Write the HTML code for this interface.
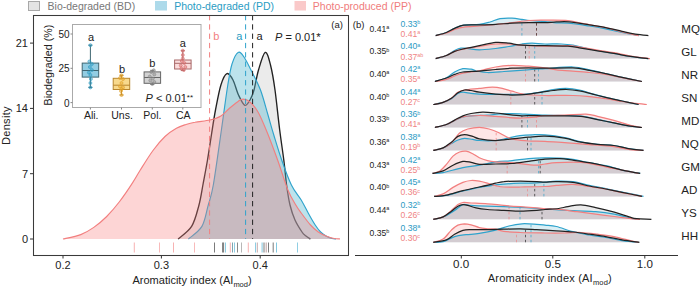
<!DOCTYPE html>
<html><head><meta charset="utf-8"><style>
html,body{margin:0;padding:0;background:#fff;width:700px;height:290px;overflow:hidden}
svg{display:block;font-family:"Liberation Sans",sans-serif}
</style></head><body>
<svg width="700" height="290" viewBox="0 0 700 290">
<!-- legend -->
<rect x="28.5" y="1.5" width="11" height="9" fill="#E4E4E4" stroke="#A8A8A8" stroke-width="1"/>
<text x="47.6" y="10.2" font-size="10.5" fill="#777">Bio-degraded (BD)</text>
<rect x="155" y="1" width="12" height="9.5" fill="#ADDAEA"/>
<text x="174.2" y="10.2" font-size="10.5" fill="#2A9CC3">Photo-degraded (PD)</text>
<rect x="294.5" y="1" width="11.5" height="9.5" fill="#FAC9C9"/>
<text x="312.8" y="10.2" font-size="10.5" fill="#F07C7C">Photo-produced (PP)</text>

<!-- panel a -->
<path d="M178.1,239.0 C180.3,236.9 188.1,232.0 191.6,226.4 C195.1,220.8 196.9,212.6 198.8,205.7 C200.7,198.8 201.5,192.6 202.9,185.0 C204.3,177.4 206.1,168.3 207.5,160.0 C208.9,151.7 210.1,143.3 211.4,135.0 C212.7,126.7 213.9,118.3 215.5,110.0 C217.1,101.7 219.0,91.1 220.9,85.0 C222.8,78.9 224.9,74.4 226.9,73.6 C228.9,72.8 231.1,76.4 233.0,80.0 C234.9,83.6 236.5,90.8 238.5,95.0 C240.5,99.2 242.9,104.5 244.8,105.3 C246.7,106.1 248.5,102.5 250.0,100.0 C251.5,97.5 252.6,95.0 254.0,90.0 C255.4,85.0 256.6,76.3 258.5,70.0 C260.4,63.7 263.2,53.2 265.2,52.4 C267.2,51.6 268.9,58.7 270.5,65.0 C272.1,71.3 273.5,79.2 275.0,90.0 C276.5,100.8 278.2,118.3 279.7,130.0 C281.2,141.7 282.6,150.8 283.8,160.0 C285.0,169.2 285.6,177.5 286.6,185.0 C287.6,192.5 288.6,199.2 290.0,205.0 C291.4,210.8 293.0,215.5 295.0,220.0 C297.0,224.5 300.2,229.3 302.0,232.0 C303.8,234.7 304.6,234.8 306.0,236.0 C307.4,237.2 309.8,238.5 310.5,239.0 L310.5,239 L178.1,239 Z" fill="rgba(153,153,153,0.2)" stroke="none"/><path d="M178.1,239.0 C180.3,236.9 188.1,232.0 191.6,226.4 C195.1,220.8 196.9,212.6 198.8,205.7 C200.7,198.8 201.5,192.6 202.9,185.0 C204.3,177.4 206.1,168.3 207.5,160.0 C208.9,151.7 210.1,143.3 211.4,135.0 C212.7,126.7 213.9,118.3 215.5,110.0 C217.1,101.7 219.0,91.1 220.9,85.0 C222.8,78.9 224.9,74.4 226.9,73.6 C228.9,72.8 231.1,76.4 233.0,80.0 C234.9,83.6 236.5,90.8 238.5,95.0 C240.5,99.2 242.9,104.5 244.8,105.3 C246.7,106.1 248.5,102.5 250.0,100.0 C251.5,97.5 252.6,95.0 254.0,90.0 C255.4,85.0 256.6,76.3 258.5,70.0 C260.4,63.7 263.2,53.2 265.2,52.4 C267.2,51.6 268.9,58.7 270.5,65.0 C272.1,71.3 273.5,79.2 275.0,90.0 C276.5,100.8 278.2,118.3 279.7,130.0 C281.2,141.7 282.6,150.8 283.8,160.0 C285.0,169.2 285.6,177.5 286.6,185.0 C287.6,192.5 288.6,199.2 290.0,205.0 C291.4,210.8 293.0,215.5 295.0,220.0 C297.0,224.5 300.2,229.3 302.0,232.0 C303.8,234.7 304.6,234.8 306.0,236.0 C307.4,237.2 309.8,238.5 310.5,239.0" fill="none" stroke="#222" stroke-width="1.35"/><path d="M188.4,239.0 C190.7,236.9 198.6,232.0 201.9,226.4 C205.2,220.8 206.2,212.6 208.1,205.7 C210.0,198.8 211.1,197.6 213.3,185.0 C215.5,172.4 219.0,146.7 221.4,130.0 C223.8,113.3 226.0,96.0 227.8,85.0 C229.6,74.0 230.3,69.4 232.0,64.0 C233.7,58.6 236.1,53.6 238.1,52.4 C240.1,51.2 241.7,53.7 244.0,57.0 C246.3,60.3 249.2,66.5 252.0,72.0 C254.8,77.5 257.8,82.8 260.5,90.0 C263.2,97.2 265.8,107.5 268.0,115.0 C270.2,122.5 271.5,127.5 273.8,135.0 C276.1,142.5 278.8,151.7 281.7,160.0 C284.6,168.3 288.1,178.3 291.4,185.0 C294.6,191.7 298.4,195.3 301.2,200.0 C304.0,204.7 305.9,208.8 308.2,213.0 C310.5,217.2 313.1,221.8 315.2,225.0 C317.3,228.2 318.8,230.2 320.6,232.0 C322.4,233.8 324.1,234.9 326.0,236.0 C327.9,237.1 330.3,238.0 332.0,238.5 C333.7,239.0 335.3,238.9 336.0,239.0 L336.0,239 L188.4,239 Z" fill="rgba(88,184,208,0.4)" stroke="none"/><path d="M188.4,239.0 C190.7,236.9 198.6,232.0 201.9,226.4 C205.2,220.8 206.2,212.6 208.1,205.7 C210.0,198.8 211.1,197.6 213.3,185.0 C215.5,172.4 219.0,146.7 221.4,130.0 C223.8,113.3 226.0,96.0 227.8,85.0 C229.6,74.0 230.3,69.4 232.0,64.0 C233.7,58.6 236.1,53.6 238.1,52.4 C240.1,51.2 241.7,53.7 244.0,57.0 C246.3,60.3 249.2,66.5 252.0,72.0 C254.8,77.5 257.8,82.8 260.5,90.0 C263.2,97.2 265.8,107.5 268.0,115.0 C270.2,122.5 271.5,127.5 273.8,135.0 C276.1,142.5 278.8,151.7 281.7,160.0 C284.6,168.3 288.1,178.3 291.4,185.0 C294.6,191.7 298.4,195.3 301.2,200.0 C304.0,204.7 305.9,208.8 308.2,213.0 C310.5,217.2 313.1,221.8 315.2,225.0 C317.3,228.2 318.8,230.2 320.6,232.0 C322.4,233.8 324.1,234.9 326.0,236.0 C327.9,237.1 330.3,238.0 332.0,238.5 C333.7,239.0 335.3,238.9 336.0,239.0" fill="none" stroke="#2FA3CC" stroke-width="1.15"/><path d="M63.0,239.0 C66.0,238.3 75.7,236.5 80.8,234.6 C85.9,232.7 89.5,230.4 93.8,227.4 C98.1,224.4 102.4,220.8 106.7,216.5 C111.0,212.2 115.3,207.1 119.6,201.5 C123.9,195.9 129.1,188.2 132.5,182.9 C135.9,177.7 136.9,175.4 140.3,170.0 C143.7,164.6 148.9,156.1 153.0,150.5 C157.1,144.9 161.1,140.2 165.0,136.5 C168.9,132.8 172.9,130.3 176.4,128.3 C179.9,126.3 182.9,125.5 186.0,124.5 C189.1,123.5 191.0,123.0 195.0,122.3 C199.0,121.5 205.7,121.0 210.0,120.0 C214.3,119.0 217.7,118.0 220.9,116.0 C224.2,114.0 226.6,110.7 229.5,108.3 C232.4,105.9 235.8,102.9 238.1,101.4 C240.3,99.9 241.0,99.0 243.0,99.1 C245.0,99.2 247.5,99.8 250.0,102.0 C252.5,104.2 255.3,107.3 258.0,112.0 C260.7,116.7 262.9,122.0 266.2,130.0 C269.5,138.0 274.0,150.0 277.6,160.0 C281.2,170.0 284.9,182.5 287.9,190.0 C290.9,197.5 293.6,201.2 295.8,205.0 C298.0,208.8 298.8,209.7 301.2,213.0 C303.6,216.3 307.6,221.8 310.5,225.0 C313.4,228.2 315.7,230.2 318.3,232.0 C320.9,233.8 323.6,235.0 326.0,236.0 C328.4,237.0 330.7,237.7 333.0,238.2 C335.3,238.7 338.8,238.9 340.0,239.0 L340.0,239 L63.0,239 Z" fill="rgba(250,128,128,0.33)" stroke="none"/><path d="M63.0,239.0 C66.0,238.3 75.7,236.5 80.8,234.6 C85.9,232.7 89.5,230.4 93.8,227.4 C98.1,224.4 102.4,220.8 106.7,216.5 C111.0,212.2 115.3,207.1 119.6,201.5 C123.9,195.9 129.1,188.2 132.5,182.9 C135.9,177.7 136.9,175.4 140.3,170.0 C143.7,164.6 148.9,156.1 153.0,150.5 C157.1,144.9 161.1,140.2 165.0,136.5 C168.9,132.8 172.9,130.3 176.4,128.3 C179.9,126.3 182.9,125.5 186.0,124.5 C189.1,123.5 191.0,123.0 195.0,122.3 C199.0,121.5 205.7,121.0 210.0,120.0 C214.3,119.0 217.7,118.0 220.9,116.0 C224.2,114.0 226.6,110.7 229.5,108.3 C232.4,105.9 235.8,102.9 238.1,101.4 C240.3,99.9 241.0,99.0 243.0,99.1 C245.0,99.2 247.5,99.8 250.0,102.0 C252.5,104.2 255.3,107.3 258.0,112.0 C260.7,116.7 262.9,122.0 266.2,130.0 C269.5,138.0 274.0,150.0 277.6,160.0 C281.2,170.0 284.9,182.5 287.9,190.0 C290.9,197.5 293.6,201.2 295.8,205.0 C298.0,208.8 298.8,209.7 301.2,213.0 C303.6,216.3 307.6,221.8 310.5,225.0 C313.4,228.2 315.7,230.2 318.3,232.0 C320.9,233.8 323.6,235.0 326.0,236.0 C328.4,237.0 330.7,237.7 333.0,238.2 C335.3,238.7 338.8,238.9 340.0,239.0" fill="none" stroke="#F27F7F" stroke-width="1.15"/>
<line x1="209.6" y1="15" x2="209.6" y2="239" stroke="#F27F7F" stroke-width="1" stroke-dasharray="5.3,4"/>
<line x1="245.6" y1="15" x2="245.6" y2="239" stroke="#2FA3CC" stroke-width="1" stroke-dasharray="5.3,4"/>
<line x1="252.6" y1="15" x2="252.6" y2="239" stroke="#222" stroke-width="1" stroke-dasharray="5.3,4"/>
<line x1="134.3" y1="242.5" x2="134.3" y2="252.5" stroke="#F27F7F" stroke-width="0.8" opacity="0.75"/><line x1="159.4" y1="242.5" x2="159.4" y2="252.5" stroke="#F27F7F" stroke-width="0.8" opacity="0.75"/><line x1="173.5" y1="242.5" x2="173.5" y2="252.5" stroke="#F27F7F" stroke-width="0.8" opacity="0.75"/><line x1="194.4" y1="242.5" x2="194.4" y2="252.5" stroke="#F27F7F" stroke-width="0.8" opacity="0.75"/><line x1="214.5" y1="242.5" x2="214.5" y2="252.5" stroke="#222" stroke-width="0.8" opacity="0.75"/><line x1="222.6" y1="242.5" x2="222.6" y2="252.5" stroke="#222" stroke-width="0.8" opacity="0.75"/><line x1="223.6" y1="242.5" x2="223.6" y2="252.5" stroke="#222" stroke-width="0.8" opacity="0.75"/><line x1="225.4" y1="242.5" x2="225.4" y2="252.5" stroke="#2FA3CC" stroke-width="0.8" opacity="0.75"/><line x1="230.3" y1="242.5" x2="230.3" y2="252.5" stroke="#F27F7F" stroke-width="0.8" opacity="0.75"/><line x1="232.5" y1="242.5" x2="232.5" y2="252.5" stroke="#2a6a7a" stroke-width="0.8" opacity="0.75"/><line x1="234.4" y1="242.5" x2="234.4" y2="252.5" stroke="#2FA3CC" stroke-width="0.8" opacity="0.75"/><line x1="237.4" y1="242.5" x2="237.4" y2="252.5" stroke="#222" stroke-width="0.8" opacity="0.75"/><line x1="241.5" y1="242.5" x2="241.5" y2="252.5" stroke="#888" stroke-width="0.8" opacity="0.75"/><line x1="248.3" y1="242.5" x2="248.3" y2="252.5" stroke="#F27F7F" stroke-width="0.8" opacity="0.75"/><line x1="255.6" y1="242.5" x2="255.6" y2="252.5" stroke="#2FA3CC" stroke-width="0.8" opacity="0.75"/><line x1="257.3" y1="242.5" x2="257.3" y2="252.5" stroke="#a07070" stroke-width="0.8" opacity="0.75"/><line x1="262.1" y1="242.5" x2="262.1" y2="252.5" stroke="#2FA3CC" stroke-width="0.8" opacity="0.75"/><line x1="264" y1="242.5" x2="264" y2="252.5" stroke="#222" stroke-width="0.8" opacity="0.75"/><line x1="266.2" y1="242.5" x2="266.2" y2="252.5" stroke="#906060" stroke-width="0.8" opacity="0.75"/><line x1="268.5" y1="242.5" x2="268.5" y2="252.5" stroke="#222" stroke-width="0.8" opacity="0.75"/><line x1="273.2" y1="242.5" x2="273.2" y2="252.5" stroke="#222" stroke-width="0.8" opacity="0.75"/><line x1="276.5" y1="242.5" x2="276.5" y2="252.5" stroke="#2FA3CC" stroke-width="0.8" opacity="0.75"/><line x1="297.4" y1="242.5" x2="297.4" y2="252.5" stroke="#2FA3CC" stroke-width="0.8" opacity="0.75"/>
<text x="213.2" y="39.9" font-size="11" fill="#F27F7F">b</text>
<text x="236.3" y="39.9" font-size="11" fill="#2A9BC2">a</text>
<text x="256.4" y="39.9" font-size="11" fill="#222">a</text>
<text x="275" y="40.7" font-size="11" fill="#222"><tspan font-style="italic">P</tspan> = 0.01<tspan font-size="11.5" dy="0">*</tspan></text>
<text x="331.3" y="27.6" font-size="9.5" fill="#222">(a)</text>
<rect x="33.5" y="15.5" width="315" height="240" fill="none" stroke="#3a3a3a" stroke-width="1.05"/>
<g stroke="#333" stroke-width="1">
<line x1="30" y1="239" x2="33" y2="239"/><line x1="30" y1="173.7" x2="33" y2="173.7"/><line x1="30" y1="108.4" x2="33" y2="108.4"/><line x1="30" y1="43.1" x2="33" y2="43.1"/>
<line x1="63" y1="256" x2="63" y2="258.5"/><line x1="161.4" y1="256" x2="161.4" y2="258.5"/><line x1="260.2" y1="256" x2="260.2" y2="258.5"/>
</g>
<g font-size="11" fill="#222" text-anchor="end">
<text x="28" y="243">0</text><text x="28" y="177.7">7</text><text x="28" y="112.2">14</text><text x="28" y="47">21</text>
</g>
<g font-size="11" fill="#222" text-anchor="middle">
<text x="63" y="268.8">0.2</text><text x="161.4" y="268.8">0.3</text><text x="260.2" y="268.8">0.4</text>
</g>
<text x="132.5" y="284" font-size="11" fill="#222">Aromaticity index (AI<tspan font-size="7.5" dy="3">mod</tspan><tspan dy="-3">)</tspan></text>
<text transform="translate(9.6,125.6) rotate(-90)" font-size="11" letter-spacing="0.3" fill="#222" text-anchor="middle">Density</text>

<!-- inset -->
<rect x="72.5" y="24.5" width="128.5" height="83" fill="#fff" stroke="#AAA" stroke-width="1"/>
<g stroke="#888" stroke-width="1"><line x1="70.5" y1="34" x2="72.5" y2="34"/><line x1="70.5" y1="68.3" x2="72.5" y2="68.3"/><line x1="70.5" y1="102.6" x2="72.5" y2="102.6"/>
<line x1="90.4" y1="107.5" x2="90.4" y2="109.5"/><line x1="121.5" y1="107.5" x2="121.5" y2="109.5"/><line x1="152.3" y1="107.5" x2="152.3" y2="109.5"/><line x1="182.8" y1="107.5" x2="182.8" y2="109.5"/></g>
<g font-size="10" fill="#222" text-anchor="end"><text x="69.6" y="38">50</text><text x="69.6" y="72.4">25</text><text x="69.6" y="106.8">0</text></g>
<g font-size="10.5" fill="#222" text-anchor="middle"><text x="91.2" y="118.7">Ali.</text><text x="122" y="118.7">Uns.</text><text x="152.4" y="118.7">Pol.</text><text x="183.3" y="118.7">CA</text></g>
<text transform="translate(51.6,65) rotate(-90)" font-size="10.6" letter-spacing="0.1" fill="#222" text-anchor="middle">Biodegraded (%)</text>
<line x1="90.4" y1="45.2" x2="90.4" y2="87.4" stroke="#3F6672" stroke-width="1"/><line x1="88.4" y1="45.2" x2="92.4" y2="45.2" stroke="#3F6672" stroke-width="1"/><line x1="88.4" y1="87.4" x2="92.4" y2="87.4" stroke="#3F6672" stroke-width="1"/><rect x="82.2" y="63.1" width="16.5" height="14.0" fill="#92CDE3" stroke="#3F6672" stroke-width="1"/><line x1="82.2" y1="70.5" x2="98.7" y2="70.5" stroke="#3F6672" stroke-width="1"/><circle cx="90.4" cy="45.2" r="1.5" fill="#2E9CC2" fill-opacity="0.45" stroke="#2E9CC2" stroke-width="0.6"/><circle cx="89.4" cy="61.5" r="1.5" fill="#2E9CC2" fill-opacity="0.45" stroke="#2E9CC2" stroke-width="0.6"/><circle cx="91.9" cy="64.0" r="1.5" fill="#2E9CC2" fill-opacity="0.45" stroke="#2E9CC2" stroke-width="0.6"/><circle cx="89.9" cy="67.0" r="1.5" fill="#2E9CC2" fill-opacity="0.45" stroke="#2E9CC2" stroke-width="0.6"/><circle cx="91.9" cy="70.0" r="1.5" fill="#2E9CC2" fill-opacity="0.45" stroke="#2E9CC2" stroke-width="0.6"/><circle cx="88.9" cy="72.5" r="1.5" fill="#2E9CC2" fill-opacity="0.45" stroke="#2E9CC2" stroke-width="0.6"/><circle cx="90.4" cy="75.0" r="1.5" fill="#2E9CC2" fill-opacity="0.45" stroke="#2E9CC2" stroke-width="0.6"/><circle cx="90.9" cy="79.0" r="1.5" fill="#2E9CC2" fill-opacity="0.45" stroke="#2E9CC2" stroke-width="0.6"/><circle cx="90.4" cy="83.0" r="1.5" fill="#2E9CC2" fill-opacity="0.45" stroke="#2E9CC2" stroke-width="0.6"/><circle cx="90.4" cy="87.4" r="1.5" fill="#2E9CC2" fill-opacity="0.45" stroke="#2E9CC2" stroke-width="0.6"/><line x1="121.5" y1="75.3" x2="121.5" y2="95" stroke="#B8862E" stroke-width="1"/><line x1="119.5" y1="75.3" x2="123.5" y2="75.3" stroke="#B8862E" stroke-width="1"/><line x1="119.5" y1="95" x2="123.5" y2="95" stroke="#B8862E" stroke-width="1"/><rect x="113.2" y="78.3" width="16.5" height="11.2" fill="#F8D98C" stroke="#B8862E" stroke-width="1"/><line x1="113.2" y1="85.2" x2="129.8" y2="85.2" stroke="#B8862E" stroke-width="1"/><circle cx="121.5" cy="75.3" r="1.5" fill="#E3A127" fill-opacity="0.45" stroke="#E3A127" stroke-width="0.6"/><circle cx="120.0" cy="78.0" r="1.5" fill="#E3A127" fill-opacity="0.45" stroke="#E3A127" stroke-width="0.6"/><circle cx="123.0" cy="79.0" r="1.5" fill="#E3A127" fill-opacity="0.45" stroke="#E3A127" stroke-width="0.6"/><circle cx="121.5" cy="83.0" r="1.5" fill="#E3A127" fill-opacity="0.45" stroke="#E3A127" stroke-width="0.6"/><circle cx="120.0" cy="86.5" r="1.5" fill="#E3A127" fill-opacity="0.45" stroke="#E3A127" stroke-width="0.6"/><circle cx="123.0" cy="87.5" r="1.5" fill="#E3A127" fill-opacity="0.45" stroke="#E3A127" stroke-width="0.6"/><circle cx="121.5" cy="89.0" r="1.5" fill="#E3A127" fill-opacity="0.45" stroke="#E3A127" stroke-width="0.6"/><circle cx="121.0" cy="91.0" r="1.5" fill="#E3A127" fill-opacity="0.45" stroke="#E3A127" stroke-width="0.6"/><circle cx="121.5" cy="95.0" r="1.5" fill="#E3A127" fill-opacity="0.45" stroke="#E3A127" stroke-width="0.6"/><line x1="152.3" y1="70.3" x2="152.3" y2="84.4" stroke="#666" stroke-width="1"/><line x1="150.3" y1="70.3" x2="154.3" y2="70.3" stroke="#666" stroke-width="1"/><line x1="150.3" y1="84.4" x2="154.3" y2="84.4" stroke="#666" stroke-width="1"/><rect x="144.1" y="71.9" width="16.5" height="11.4" fill="#D2D2D2" stroke="#666" stroke-width="1"/><line x1="144.1" y1="77.5" x2="160.6" y2="77.5" stroke="#666" stroke-width="1"/><circle cx="153.8" cy="70.3" r="1.5" fill="#8A8A8A" fill-opacity="0.45" stroke="#8A8A8A" stroke-width="0.6"/><circle cx="151.3" cy="72.0" r="1.5" fill="#8A8A8A" fill-opacity="0.45" stroke="#8A8A8A" stroke-width="0.6"/><circle cx="154.3" cy="74.5" r="1.5" fill="#8A8A8A" fill-opacity="0.45" stroke="#8A8A8A" stroke-width="0.6"/><circle cx="149.8" cy="76.5" r="1.5" fill="#8A8A8A" fill-opacity="0.45" stroke="#8A8A8A" stroke-width="0.6"/><circle cx="152.8" cy="78.5" r="1.5" fill="#8A8A8A" fill-opacity="0.45" stroke="#8A8A8A" stroke-width="0.6"/><circle cx="150.3" cy="80.5" r="1.5" fill="#8A8A8A" fill-opacity="0.45" stroke="#8A8A8A" stroke-width="0.6"/><circle cx="154.3" cy="82.0" r="1.5" fill="#8A8A8A" fill-opacity="0.45" stroke="#8A8A8A" stroke-width="0.6"/><circle cx="152.3" cy="84.0" r="1.5" fill="#8A8A8A" fill-opacity="0.45" stroke="#8A8A8A" stroke-width="0.6"/><line x1="182.8" y1="50.7" x2="182.8" y2="70.6" stroke="#A86868" stroke-width="1"/><line x1="180.8" y1="50.7" x2="184.8" y2="50.7" stroke="#A86868" stroke-width="1"/><line x1="180.8" y1="70.6" x2="184.8" y2="70.6" stroke="#A86868" stroke-width="1"/><rect x="174.6" y="60" width="16.5" height="9.0" fill="#FADCDC" stroke="#A86868" stroke-width="1"/><line x1="174.6" y1="63.3" x2="191.1" y2="63.3" stroke="#A86868" stroke-width="1"/><circle cx="182.8" cy="50.7" r="1.5" fill="#D86A6A" fill-opacity="0.45" stroke="#D86A6A" stroke-width="0.6"/><circle cx="182.8" cy="55.0" r="1.5" fill="#D86A6A" fill-opacity="0.45" stroke="#D86A6A" stroke-width="0.6"/><circle cx="182.8" cy="58.5" r="1.5" fill="#D86A6A" fill-opacity="0.45" stroke="#D86A6A" stroke-width="0.6"/><circle cx="181.8" cy="61.0" r="1.5" fill="#D86A6A" fill-opacity="0.45" stroke="#D86A6A" stroke-width="0.6"/><circle cx="184.3" cy="63.0" r="1.5" fill="#D86A6A" fill-opacity="0.45" stroke="#D86A6A" stroke-width="0.6"/><circle cx="180.8" cy="65.5" r="1.5" fill="#D86A6A" fill-opacity="0.45" stroke="#D86A6A" stroke-width="0.6"/><circle cx="185.3" cy="67.0" r="1.5" fill="#D86A6A" fill-opacity="0.45" stroke="#D86A6A" stroke-width="0.6"/><circle cx="181.3" cy="68.5" r="1.5" fill="#D86A6A" fill-opacity="0.45" stroke="#D86A6A" stroke-width="0.6"/><circle cx="183.8" cy="70.0" r="1.5" fill="#D86A6A" fill-opacity="0.45" stroke="#D86A6A" stroke-width="0.6"/>
<g font-size="11" fill="#222" text-anchor="middle"><text x="91" y="41">a</text><text x="122" y="73.2">b</text><text x="152.3" y="66.9">b</text><text x="182.8" y="47.4">a</text></g>
<text x="145.5" y="102" font-size="11" fill="#222"><tspan font-style="italic">P</tspan> &lt; 0.01<tspan font-size="8" dy="-1.8">**</tspan></text>

<!-- panel b -->
<text x="352.8" y="27.6" font-size="9.5" fill="#222">(b)</text>
<path d="M435.7,35.6 C437.5,35.1 443.2,33.7 446.4,32.5 C449.5,31.3 451.7,29.6 454.6,28.4 C457.5,27.2 459.6,25.7 463.7,25.1 C467.8,24.5 474.0,24.9 479.3,24.8 C484.6,24.7 490.2,24.6 495.7,24.3 C501.2,24.0 506.6,23.5 512.1,23.2 C517.6,22.9 523.1,22.8 528.6,22.7 C534.1,22.6 540.4,22.8 545.0,22.7 C549.6,22.6 552.3,22.0 556.4,21.9 C560.5,21.8 564.1,21.4 569.6,21.9 C575.1,22.4 583.3,23.9 589.3,24.8 C595.3,25.8 600.2,26.5 605.7,27.6 C611.2,28.7 617.2,30.3 622.1,31.4 C627.0,32.5 630.9,33.5 635.3,34.2 C639.7,34.9 646.2,35.4 648.4,35.6 L648.4,35.6 L435.7,35.6 Z" fill="rgba(153,153,153,0.2)" stroke="none"/><path d="M435.7,35.6 C437.5,35.1 443.2,33.7 446.4,32.5 C449.5,31.3 451.7,29.6 454.6,28.4 C457.5,27.2 459.6,25.8 463.7,25.1 C467.8,24.4 474.9,24.8 479.3,24.3 C483.7,23.8 486.6,22.9 490.0,22.0 C493.4,21.1 496.3,19.2 500.0,18.6 C503.7,18.0 508.3,18.1 512.0,18.2 C515.7,18.3 519.0,19.0 522.0,19.4 C525.0,19.8 526.2,20.1 530.0,20.5 C533.8,20.9 540.6,21.1 545.0,21.5 C549.4,21.9 552.6,22.5 556.4,22.8 C560.2,23.1 562.4,22.7 567.9,23.2 C573.4,23.7 583.0,25.1 589.3,26.0 C595.6,26.9 600.2,27.7 605.7,28.8 C611.2,29.9 616.6,31.4 622.1,32.5 C627.6,33.6 635.9,35.1 638.6,35.6 L638.6,35.6 L435.7,35.6 Z" fill="rgba(88,184,208,0.22)" stroke="none"/><path d="M435.7,35.6 C437.5,35.2 443.2,34.0 446.4,33.0 C449.5,32.0 451.7,30.5 454.6,29.5 C457.5,28.5 459.6,27.7 463.7,27.1 C467.8,26.5 474.0,26.4 479.3,26.0 C484.6,25.6 490.2,25.1 495.7,24.5 C501.2,23.9 506.6,23.4 512.1,22.7 C517.6,22.0 523.1,20.9 528.6,20.5 C534.1,20.1 538.5,20.2 545.0,20.2 C551.5,20.2 561.9,20.0 567.9,20.5 C573.9,21.0 574.7,22.0 581.0,23.2 C587.3,24.4 598.9,26.1 605.7,27.6 C612.6,29.1 616.6,30.7 622.1,32.0 C627.6,33.3 635.9,35.0 638.6,35.6 L638.6,35.6 L435.7,35.6 Z" fill="rgba(250,128,128,0.2)" stroke="none"/><line x1="536.5" y1="35.6" x2="536.5" y2="20.4" stroke="#F27F7F" stroke-width="0.8" stroke-dasharray="2.5,2.5" opacity="0.85"/><line x1="536.5" y1="35.6" x2="536.5" y2="22.7" stroke="#222" stroke-width="0.8" stroke-dasharray="2.5,2.5" opacity="0.85"/><line x1="521.9" y1="35.6" x2="521.9" y2="19.4" stroke="#2FA3CC" stroke-width="0.8" stroke-dasharray="2.5,2.5" opacity="0.85"/><path d="M435.7,35.6 C437.5,35.1 443.2,33.7 446.4,32.5 C449.5,31.3 451.7,29.6 454.6,28.4 C457.5,27.2 459.6,25.8 463.7,25.1 C467.8,24.4 474.9,24.8 479.3,24.3 C483.7,23.8 486.6,22.9 490.0,22.0 C493.4,21.1 496.3,19.2 500.0,18.6 C503.7,18.0 508.3,18.1 512.0,18.2 C515.7,18.3 519.0,19.0 522.0,19.4 C525.0,19.8 526.2,20.1 530.0,20.5 C533.8,20.9 540.6,21.1 545.0,21.5 C549.4,21.9 552.6,22.5 556.4,22.8 C560.2,23.1 562.4,22.7 567.9,23.2 C573.4,23.7 583.0,25.1 589.3,26.0 C595.6,26.9 600.2,27.7 605.7,28.8 C611.2,29.9 616.6,31.4 622.1,32.5 C627.6,33.6 635.9,35.1 638.6,35.6" fill="none" stroke="#2FA3CC" stroke-width="1.25"/><path d="M435.7,35.6 C437.5,35.2 443.2,34.0 446.4,33.0 C449.5,32.0 451.7,30.5 454.6,29.5 C457.5,28.5 459.6,27.7 463.7,27.1 C467.8,26.5 474.0,26.4 479.3,26.0 C484.6,25.6 490.2,25.1 495.7,24.5 C501.2,23.9 506.6,23.4 512.1,22.7 C517.6,22.0 523.1,20.9 528.6,20.5 C534.1,20.1 538.5,20.2 545.0,20.2 C551.5,20.2 561.9,20.0 567.9,20.5 C573.9,21.0 574.7,22.0 581.0,23.2 C587.3,24.4 598.9,26.1 605.7,27.6 C612.6,29.1 616.6,30.7 622.1,32.0 C627.6,33.3 635.9,35.0 638.6,35.6" fill="none" stroke="#F27F7F" stroke-width="1.25"/><path d="M435.7,35.6 C437.5,35.1 443.2,33.7 446.4,32.5 C449.5,31.3 451.7,29.6 454.6,28.4 C457.5,27.2 459.6,25.7 463.7,25.1 C467.8,24.5 474.0,24.9 479.3,24.8 C484.6,24.7 490.2,24.6 495.7,24.3 C501.2,24.0 506.6,23.5 512.1,23.2 C517.6,22.9 523.1,22.8 528.6,22.7 C534.1,22.6 540.4,22.8 545.0,22.7 C549.6,22.6 552.3,22.0 556.4,21.9 C560.5,21.8 564.1,21.4 569.6,21.9 C575.1,22.4 583.3,23.9 589.3,24.8 C595.3,25.8 600.2,26.5 605.7,27.6 C611.2,28.7 617.2,30.3 622.1,31.4 C627.0,32.5 630.9,33.5 635.3,34.2 C639.7,34.9 646.2,35.4 648.4,35.6" fill="none" stroke="#222" stroke-width="1.25"/><text x="369.6" y="31.6" font-size="8.6" fill="#222">0.41<tspan font-size="5.4" dy="-2.7">a</tspan></text><text x="400.6" y="26.7" font-size="8.6" fill="#2B9AC4">0.33<tspan font-size="5.4" dy="-2.7">b</tspan></text><text x="400.6" y="36.8" font-size="8.6" fill="#EF8484">0.41<tspan font-size="5.4" dy="-2.7">a</tspan></text><text x="681.3" y="33.1" font-size="11.6" fill="#222">MQ</text><path d="M435.7,58.6 C437.5,58.1 443.2,56.7 446.4,55.5 C449.5,54.3 451.9,52.5 454.6,51.4 C457.4,50.3 458.8,50.0 462.9,49.0 C467.0,48.0 473.8,46.8 479.3,45.7 C484.8,44.6 490.8,42.8 495.7,42.4 C500.6,42.0 504.5,42.7 508.9,43.2 C513.3,43.7 516.0,44.8 522.0,45.2 C528.0,45.6 537.4,45.5 545.0,45.7 C552.6,45.9 561.9,45.8 567.9,46.2 C573.9,46.6 576.1,47.3 581.0,48.1 C585.9,48.9 592.0,50.0 597.5,50.9 C603.0,51.8 608.4,52.5 613.9,53.4 C619.4,54.3 624.6,55.5 630.4,56.4 C636.1,57.3 645.4,58.2 648.4,58.6 L648.4,58.57 L435.7,58.57 Z" fill="rgba(153,153,153,0.2)" stroke="none"/><path d="M435.7,58.6 C437.5,58.1 443.2,56.8 446.4,55.5 C449.5,54.2 452.2,51.8 454.6,50.6 C457.0,49.4 458.9,48.5 461.0,48.1 C463.1,47.8 463.9,48.2 467.0,48.5 C470.1,48.8 474.5,49.8 479.3,49.8 C484.1,49.8 490.8,49.0 495.7,48.5 C500.6,48.0 504.5,47.2 508.9,46.5 C513.3,45.8 518.1,44.5 522.0,44.0 C525.9,43.5 528.2,43.2 532.0,43.2 C535.8,43.2 540.1,43.9 545.0,44.0 C549.9,44.1 556.8,43.8 561.4,44.0 C566.0,44.2 568.2,44.4 572.9,45.2 C577.5,46.0 582.5,47.6 589.3,49.0 C596.1,50.4 606.8,52.1 613.9,53.4 C621.0,54.7 626.2,55.8 632.0,56.7 C637.8,57.6 645.7,58.3 648.4,58.6 L648.4,58.57 L435.7,58.57 Z" fill="rgba(88,184,208,0.22)" stroke="none"/><path d="M435.7,58.6 C437.5,58.1 443.2,56.7 446.4,55.5 C449.5,54.3 451.9,52.4 454.6,51.4 C457.4,50.4 458.8,50.0 462.9,49.2 C467.0,48.4 473.8,47.4 479.3,46.5 C484.8,45.6 490.8,44.4 495.7,44.0 C500.6,43.6 504.5,43.8 508.9,44.0 C513.3,44.2 516.0,44.8 522.0,45.2 C528.0,45.6 537.4,46.1 545.0,46.2 C552.6,46.3 561.9,45.5 567.9,45.7 C573.9,45.9 576.1,46.6 581.0,47.3 C585.9,48.0 592.0,49.2 597.5,50.1 C603.0,51.0 608.4,51.7 613.9,52.7 C619.4,53.7 624.4,55.0 630.4,56.0 C636.4,57.0 646.7,58.1 650.0,58.6 L650.0,58.57 L435.7,58.57 Z" fill="rgba(250,128,128,0.2)" stroke="none"/><line x1="529.2" y1="58.6" x2="529.2" y2="45.5" stroke="#F27F7F" stroke-width="0.8" stroke-dasharray="2.5,2.5" opacity="0.85"/><line x1="525.5" y1="58.6" x2="525.5" y2="45.3" stroke="#222" stroke-width="0.8" stroke-dasharray="2.5,2.5" opacity="0.85"/><line x1="534.7" y1="58.6" x2="534.7" y2="43.4" stroke="#2FA3CC" stroke-width="0.8" stroke-dasharray="2.5,2.5" opacity="0.85"/><path d="M435.7,58.6 C437.5,58.1 443.2,56.8 446.4,55.5 C449.5,54.2 452.2,51.8 454.6,50.6 C457.0,49.4 458.9,48.5 461.0,48.1 C463.1,47.8 463.9,48.2 467.0,48.5 C470.1,48.8 474.5,49.8 479.3,49.8 C484.1,49.8 490.8,49.0 495.7,48.5 C500.6,48.0 504.5,47.2 508.9,46.5 C513.3,45.8 518.1,44.5 522.0,44.0 C525.9,43.5 528.2,43.2 532.0,43.2 C535.8,43.2 540.1,43.9 545.0,44.0 C549.9,44.1 556.8,43.8 561.4,44.0 C566.0,44.2 568.2,44.4 572.9,45.2 C577.5,46.0 582.5,47.6 589.3,49.0 C596.1,50.4 606.8,52.1 613.9,53.4 C621.0,54.7 626.2,55.8 632.0,56.7 C637.8,57.6 645.7,58.3 648.4,58.6" fill="none" stroke="#2FA3CC" stroke-width="1.25"/><path d="M435.7,58.6 C437.5,58.1 443.2,56.7 446.4,55.5 C449.5,54.3 451.9,52.4 454.6,51.4 C457.4,50.4 458.8,50.0 462.9,49.2 C467.0,48.4 473.8,47.4 479.3,46.5 C484.8,45.6 490.8,44.4 495.7,44.0 C500.6,43.6 504.5,43.8 508.9,44.0 C513.3,44.2 516.0,44.8 522.0,45.2 C528.0,45.6 537.4,46.1 545.0,46.2 C552.6,46.3 561.9,45.5 567.9,45.7 C573.9,45.9 576.1,46.6 581.0,47.3 C585.9,48.0 592.0,49.2 597.5,50.1 C603.0,51.0 608.4,51.7 613.9,52.7 C619.4,53.7 624.4,55.0 630.4,56.0 C636.4,57.0 646.7,58.1 650.0,58.6" fill="none" stroke="#F27F7F" stroke-width="1.25"/><path d="M435.7,58.6 C437.5,58.1 443.2,56.7 446.4,55.5 C449.5,54.3 451.9,52.5 454.6,51.4 C457.4,50.3 458.8,50.0 462.9,49.0 C467.0,48.0 473.8,46.8 479.3,45.7 C484.8,44.6 490.8,42.8 495.7,42.4 C500.6,42.0 504.5,42.7 508.9,43.2 C513.3,43.7 516.0,44.8 522.0,45.2 C528.0,45.6 537.4,45.5 545.0,45.7 C552.6,45.9 561.9,45.8 567.9,46.2 C573.9,46.6 576.1,47.3 581.0,48.1 C585.9,48.9 592.0,50.0 597.5,50.9 C603.0,51.8 608.4,52.5 613.9,53.4 C619.4,54.3 624.6,55.5 630.4,56.4 C636.1,57.3 645.4,58.2 648.4,58.6" fill="none" stroke="#222" stroke-width="1.25"/><text x="369.6" y="54.3" font-size="8.6" fill="#222">0.35<tspan font-size="5.4" dy="-2.7">b</tspan></text><text x="400.6" y="49.4" font-size="8.6" fill="#2B9AC4">0.40<tspan font-size="5.4" dy="-2.7">a</tspan></text><text x="400.6" y="59.5" font-size="8.6" fill="#EF8484">0.37<tspan font-size="5.4" dy="-2.7">ab</tspan></text><text x="681.3" y="56.1" font-size="11.6" fill="#222">GL</text><path d="M434.9,81.5 C436.8,80.9 443.1,79.2 446.4,78.0 C449.7,76.8 451.9,75.4 454.6,74.4 C457.4,73.4 458.8,72.5 462.9,72.0 C467.0,71.5 473.8,71.5 479.3,71.1 C484.8,70.7 490.2,70.0 495.7,69.5 C501.2,69.0 506.6,68.5 512.1,68.2 C517.6,67.9 523.1,67.9 528.6,67.9 C534.1,67.9 537.6,68.2 545.0,68.2 C552.4,68.2 565.5,67.6 572.9,67.9 C580.3,68.2 583.8,69.3 589.3,70.3 C594.8,71.2 600.2,72.4 605.7,73.6 C611.2,74.8 616.1,76.1 622.1,77.4 C628.1,78.7 638.6,80.8 641.9,81.5 L641.9,81.54 L434.9,81.54 Z" fill="rgba(153,153,153,0.2)" stroke="none"/><path d="M434.9,81.5 C436.8,80.9 443.1,79.3 446.4,77.7 C449.7,76.1 451.9,73.5 454.6,72.0 C457.4,70.5 460.1,69.2 462.9,68.7 C465.6,68.2 468.9,68.9 471.1,69.2 C473.3,69.5 473.3,70.2 476.0,70.8 C478.7,71.3 482.9,72.4 487.5,72.5 C492.1,72.6 498.4,71.9 503.9,71.5 C509.4,71.1 515.7,70.6 520.4,70.3 C525.1,70.0 527.8,69.8 531.9,69.5 C536.0,69.2 538.2,69.1 545.0,68.7 C551.8,68.3 565.5,66.8 572.9,67.0 C580.3,67.2 583.8,68.7 589.3,69.8 C594.8,70.9 600.2,72.3 605.7,73.6 C611.2,74.9 616.1,76.1 622.1,77.4 C628.1,78.7 638.6,80.8 641.9,81.5 L641.9,81.54 L434.9,81.54 Z" fill="rgba(88,184,208,0.22)" stroke="none"/><path d="M434.9,81.5 C436.8,81.2 443.1,80.3 446.4,79.4 C449.7,78.5 451.9,77.0 454.6,76.0 C457.4,75.0 458.8,74.0 462.9,73.1 C467.0,72.2 473.8,71.8 479.3,70.8 C484.8,69.8 490.2,67.9 495.7,67.0 C501.2,66.1 506.6,65.5 512.1,65.4 C517.6,65.3 523.1,65.8 528.6,66.2 C534.1,66.6 540.4,67.3 545.0,67.9 C549.6,68.5 551.8,69.3 556.4,69.8 C561.0,70.3 567.4,70.6 572.9,71.1 C578.4,71.5 583.8,72.0 589.3,72.5 C594.8,73.0 600.2,73.5 605.7,74.4 C611.2,75.3 616.1,76.5 622.1,77.7 C628.1,78.9 638.6,80.9 641.9,81.5 L641.9,81.54 L434.9,81.54 Z" fill="rgba(250,128,128,0.2)" stroke="none"/><line x1="525.5" y1="81.5" x2="525.5" y2="66.1" stroke="#F27F7F" stroke-width="0.8" stroke-dasharray="2.5,2.5" opacity="0.85"/><line x1="534.7" y1="81.5" x2="534.7" y2="68.0" stroke="#222" stroke-width="0.8" stroke-dasharray="2.5,2.5" opacity="0.85"/><line x1="538.4" y1="81.5" x2="538.4" y2="69.1" stroke="#2FA3CC" stroke-width="0.8" stroke-dasharray="2.5,2.5" opacity="0.85"/><path d="M434.9,81.5 C436.8,80.9 443.1,79.3 446.4,77.7 C449.7,76.1 451.9,73.5 454.6,72.0 C457.4,70.5 460.1,69.2 462.9,68.7 C465.6,68.2 468.9,68.9 471.1,69.2 C473.3,69.5 473.3,70.2 476.0,70.8 C478.7,71.3 482.9,72.4 487.5,72.5 C492.1,72.6 498.4,71.9 503.9,71.5 C509.4,71.1 515.7,70.6 520.4,70.3 C525.1,70.0 527.8,69.8 531.9,69.5 C536.0,69.2 538.2,69.1 545.0,68.7 C551.8,68.3 565.5,66.8 572.9,67.0 C580.3,67.2 583.8,68.7 589.3,69.8 C594.8,70.9 600.2,72.3 605.7,73.6 C611.2,74.9 616.1,76.1 622.1,77.4 C628.1,78.7 638.6,80.8 641.9,81.5" fill="none" stroke="#2FA3CC" stroke-width="1.25"/><path d="M434.9,81.5 C436.8,81.2 443.1,80.3 446.4,79.4 C449.7,78.5 451.9,77.0 454.6,76.0 C457.4,75.0 458.8,74.0 462.9,73.1 C467.0,72.2 473.8,71.8 479.3,70.8 C484.8,69.8 490.2,67.9 495.7,67.0 C501.2,66.1 506.6,65.5 512.1,65.4 C517.6,65.3 523.1,65.8 528.6,66.2 C534.1,66.6 540.4,67.3 545.0,67.9 C549.6,68.5 551.8,69.3 556.4,69.8 C561.0,70.3 567.4,70.6 572.9,71.1 C578.4,71.5 583.8,72.0 589.3,72.5 C594.8,73.0 600.2,73.5 605.7,74.4 C611.2,75.3 616.1,76.5 622.1,77.7 C628.1,78.9 638.6,80.9 641.9,81.5" fill="none" stroke="#F27F7F" stroke-width="1.25"/><path d="M434.9,81.5 C436.8,80.9 443.1,79.2 446.4,78.0 C449.7,76.8 451.9,75.4 454.6,74.4 C457.4,73.4 458.8,72.5 462.9,72.0 C467.0,71.5 473.8,71.5 479.3,71.1 C484.8,70.7 490.2,70.0 495.7,69.5 C501.2,69.0 506.6,68.5 512.1,68.2 C517.6,67.9 523.1,67.9 528.6,67.9 C534.1,67.9 537.6,68.2 545.0,68.2 C552.4,68.2 565.5,67.6 572.9,67.9 C580.3,68.2 583.8,69.3 589.3,70.3 C594.8,71.2 600.2,72.4 605.7,73.6 C611.2,74.8 616.1,76.1 622.1,77.4 C628.1,78.7 638.6,80.8 641.9,81.5" fill="none" stroke="#222" stroke-width="1.25"/><text x="369.6" y="76.9" font-size="8.6" fill="#222">0.40<tspan font-size="5.4" dy="-2.7">a</tspan></text><text x="400.6" y="72.0" font-size="8.6" fill="#2B9AC4">0.42<tspan font-size="5.4" dy="-2.7">a</tspan></text><text x="400.6" y="82.1" font-size="8.6" fill="#EF8484">0.35<tspan font-size="5.4" dy="-2.7">a</tspan></text><text x="681.3" y="79.0" font-size="11.6" fill="#222">NR</text><path d="M433.3,104.5 C434.9,104.2 440.1,103.5 443.1,102.4 C446.1,101.3 448.9,99.8 451.4,98.2 C453.9,96.6 455.7,94.2 457.9,92.8 C460.1,91.4 462.3,90.4 464.5,90.0 C466.7,89.6 468.6,90.1 471.1,90.5 C473.6,90.9 475.2,91.6 479.3,92.2 C483.4,92.8 490.2,93.6 495.7,94.1 C501.2,94.6 506.6,95.0 512.1,95.0 C517.6,95.0 523.1,94.6 528.6,94.1 C534.1,93.5 540.9,92.3 545.0,91.7 C549.1,91.1 549.6,90.9 553.1,90.5 C556.6,90.1 561.9,89.4 566.3,89.5 C570.7,89.6 575.0,90.1 579.4,90.9 C583.8,91.7 588.2,93.0 592.6,94.1 C597.0,95.2 600.8,96.2 605.7,97.4 C610.6,98.6 616.6,99.8 622.1,101.0 C627.6,102.2 635.9,103.9 638.6,104.5 L638.6,104.51 L433.3,104.51 Z" fill="rgba(153,153,153,0.2)" stroke="none"/><path d="M433.3,104.5 C434.9,104.2 440.1,103.4 443.1,102.4 C446.1,101.4 448.9,100.1 451.4,98.6 C453.9,97.1 456.0,94.6 457.9,93.5 C459.8,92.4 460.8,92.2 463.0,92.2 C465.2,92.2 468.4,93.0 471.1,93.3 C473.8,93.6 475.2,93.9 479.3,94.1 C483.4,94.3 490.2,94.3 495.7,94.3 C501.2,94.3 506.6,94.4 512.1,94.3 C517.6,94.2 523.1,94.3 528.6,93.8 C534.1,93.3 540.9,91.9 545.0,91.2 C549.1,90.5 549.6,90.0 553.1,89.5 C556.6,89.0 561.9,88.3 566.3,88.4 C570.7,88.5 575.0,89.1 579.4,90.0 C583.8,90.9 588.2,92.6 592.6,93.8 C597.0,95.0 600.8,96.2 605.7,97.4 C610.6,98.6 616.6,99.8 622.1,101.0 C627.6,102.2 635.9,103.9 638.6,104.5 L638.6,104.51 L433.3,104.51 Z" fill="rgba(88,184,208,0.22)" stroke="none"/><path d="M433.3,104.5 C434.9,104.2 440.1,103.5 443.1,102.4 C446.1,101.3 448.9,99.9 451.4,98.2 C453.9,96.5 455.7,93.6 457.9,92.2 C460.1,90.8 460.9,90.6 464.5,90.0 C468.1,89.4 474.7,88.9 479.3,88.4 C483.9,87.9 488.6,87.2 492.4,87.2 C496.2,87.2 499.0,87.7 502.3,88.4 C505.6,89.1 508.8,90.3 512.1,91.2 C515.4,92.1 518.7,93.2 522.0,93.8 C525.3,94.4 528.1,94.7 531.9,95.0 C535.7,95.3 538.2,95.4 545.0,95.5 C551.8,95.6 565.5,95.3 572.9,95.5 C580.3,95.7 583.8,96.1 589.3,96.6 C594.8,97.1 600.2,97.9 605.7,98.7 C611.2,99.5 615.2,100.5 622.1,101.5 C629.0,102.5 642.7,104.0 646.8,104.5 L646.8,104.51 L433.3,104.51 Z" fill="rgba(250,128,128,0.2)" stroke="none"/><line x1="510.8" y1="104.5" x2="510.8" y2="90.8" stroke="#F27F7F" stroke-width="0.8" stroke-dasharray="2.5,2.5" opacity="0.85"/><line x1="534.7" y1="104.5" x2="534.7" y2="93.2" stroke="#222" stroke-width="0.8" stroke-dasharray="2.5,2.5" opacity="0.85"/><line x1="542.0" y1="104.5" x2="542.0" y2="91.7" stroke="#2FA3CC" stroke-width="0.8" stroke-dasharray="2.5,2.5" opacity="0.85"/><path d="M433.3,104.5 C434.9,104.2 440.1,103.4 443.1,102.4 C446.1,101.4 448.9,100.1 451.4,98.6 C453.9,97.1 456.0,94.6 457.9,93.5 C459.8,92.4 460.8,92.2 463.0,92.2 C465.2,92.2 468.4,93.0 471.1,93.3 C473.8,93.6 475.2,93.9 479.3,94.1 C483.4,94.3 490.2,94.3 495.7,94.3 C501.2,94.3 506.6,94.4 512.1,94.3 C517.6,94.2 523.1,94.3 528.6,93.8 C534.1,93.3 540.9,91.9 545.0,91.2 C549.1,90.5 549.6,90.0 553.1,89.5 C556.6,89.0 561.9,88.3 566.3,88.4 C570.7,88.5 575.0,89.1 579.4,90.0 C583.8,90.9 588.2,92.6 592.6,93.8 C597.0,95.0 600.8,96.2 605.7,97.4 C610.6,98.6 616.6,99.8 622.1,101.0 C627.6,102.2 635.9,103.9 638.6,104.5" fill="none" stroke="#2FA3CC" stroke-width="1.25"/><path d="M433.3,104.5 C434.9,104.2 440.1,103.5 443.1,102.4 C446.1,101.3 448.9,99.9 451.4,98.2 C453.9,96.5 455.7,93.6 457.9,92.2 C460.1,90.8 460.9,90.6 464.5,90.0 C468.1,89.4 474.7,88.9 479.3,88.4 C483.9,87.9 488.6,87.2 492.4,87.2 C496.2,87.2 499.0,87.7 502.3,88.4 C505.6,89.1 508.8,90.3 512.1,91.2 C515.4,92.1 518.7,93.2 522.0,93.8 C525.3,94.4 528.1,94.7 531.9,95.0 C535.7,95.3 538.2,95.4 545.0,95.5 C551.8,95.6 565.5,95.3 572.9,95.5 C580.3,95.7 583.8,96.1 589.3,96.6 C594.8,97.1 600.2,97.9 605.7,98.7 C611.2,99.5 615.2,100.5 622.1,101.5 C629.0,102.5 642.7,104.0 646.8,104.5" fill="none" stroke="#F27F7F" stroke-width="1.25"/><path d="M433.3,104.5 C434.9,104.2 440.1,103.5 443.1,102.4 C446.1,101.3 448.9,99.8 451.4,98.2 C453.9,96.6 455.7,94.2 457.9,92.8 C460.1,91.4 462.3,90.4 464.5,90.0 C466.7,89.6 468.6,90.1 471.1,90.5 C473.6,90.9 475.2,91.6 479.3,92.2 C483.4,92.8 490.2,93.6 495.7,94.1 C501.2,94.6 506.6,95.0 512.1,95.0 C517.6,95.0 523.1,94.6 528.6,94.1 C534.1,93.5 540.9,92.3 545.0,91.7 C549.1,91.1 549.6,90.9 553.1,90.5 C556.6,90.1 561.9,89.4 566.3,89.5 C570.7,89.6 575.0,90.1 579.4,90.9 C583.8,91.7 588.2,93.0 592.6,94.1 C597.0,95.2 600.8,96.2 605.7,97.4 C610.6,98.6 616.6,99.8 622.1,101.0 C627.6,102.2 635.9,103.9 638.6,104.5" fill="none" stroke="#222" stroke-width="1.25"/><text x="369.6" y="99.6" font-size="8.6" fill="#222">0.40<tspan font-size="5.4" dy="-2.7">b</tspan></text><text x="400.6" y="94.7" font-size="8.6" fill="#2B9AC4">0.44<tspan font-size="5.4" dy="-2.7">a</tspan></text><text x="400.6" y="104.8" font-size="8.6" fill="#EF8484">0.27<tspan font-size="5.4" dy="-2.7">c</tspan></text><text x="681.3" y="102.0" font-size="11.6" fill="#222">SN</text><path d="M434.9,127.5 C436.8,127.0 443.1,125.7 446.4,124.5 C449.7,123.3 451.9,121.5 454.6,120.1 C457.4,118.6 460.1,116.9 462.9,115.8 C465.6,114.7 467.8,114.1 471.1,113.5 C474.4,112.9 478.5,112.3 482.6,112.2 C486.7,112.1 491.3,112.6 495.7,113.0 C500.1,113.4 504.5,114.2 508.9,114.7 C513.3,115.2 518.2,115.7 522.0,115.8 C525.8,115.9 528.1,115.5 531.9,115.5 C535.7,115.5 539.5,115.8 545.0,115.8 C550.5,115.8 558.6,115.7 564.6,115.8 C570.6,115.9 575.5,115.7 581.0,116.3 C586.5,116.9 592.0,118.5 597.5,119.6 C603.0,120.7 608.4,121.8 613.9,122.9 C619.4,124.0 625.7,125.4 630.4,126.2 C635.1,127.0 640.0,127.3 641.9,127.5 L641.9,127.48 L434.9,127.48 Z" fill="rgba(153,153,153,0.2)" stroke="none"/><path d="M434.9,127.5 C436.8,127.0 443.1,125.7 446.4,124.5 C449.7,123.3 451.9,121.8 454.6,120.5 C457.4,119.2 460.1,117.8 462.9,117.0 C465.6,116.2 467.1,116.1 471.1,115.8 C475.1,115.5 482.4,115.5 487.0,115.2 C491.6,114.9 494.8,114.2 499.0,113.9 C503.2,113.6 507.7,113.5 512.0,113.5 C516.3,113.5 519.5,113.9 525.0,114.2 C530.5,114.5 538.4,115.0 545.0,115.2 C551.6,115.4 558.6,115.4 564.6,115.5 C570.6,115.6 575.5,115.4 581.0,116.0 C586.5,116.6 592.0,118.1 597.5,119.3 C603.0,120.5 608.4,121.8 613.9,122.9 C619.4,124.1 625.7,125.4 630.4,126.2 C635.1,127.0 640.0,127.3 641.9,127.5 L641.9,127.48 L434.9,127.48 Z" fill="rgba(88,184,208,0.22)" stroke="none"/><path d="M434.9,127.5 C436.8,127.0 443.1,125.7 446.4,124.5 C449.7,123.3 451.9,121.8 454.6,120.5 C457.4,119.2 458.8,117.6 462.9,116.8 C467.0,116.0 473.8,115.6 479.3,115.5 C484.8,115.4 490.8,116.0 495.7,116.3 C500.6,116.6 504.5,117.2 508.9,117.5 C513.3,117.8 517.6,118.1 522.0,118.0 C526.4,117.9 531.2,117.5 535.0,117.1 C538.8,116.7 540.1,115.8 545.0,115.5 C549.9,115.2 557.8,115.4 564.6,115.2 C571.4,115.0 580.5,114.0 586.0,114.2 C591.5,114.4 592.9,115.3 597.5,116.3 C602.1,117.3 608.4,118.9 613.9,120.4 C619.4,121.9 625.7,124.2 630.4,125.4 C635.1,126.6 640.0,127.1 641.9,127.5 L641.9,127.48 L434.9,127.48 Z" fill="rgba(250,128,128,0.2)" stroke="none"/><line x1="536.5" y1="127.5" x2="536.5" y2="116.9" stroke="#F27F7F" stroke-width="0.8" stroke-dasharray="2.5,2.5" opacity="0.85"/><line x1="521.9" y1="127.5" x2="521.9" y2="115.8" stroke="#222" stroke-width="0.8" stroke-dasharray="2.5,2.5" opacity="0.85"/><line x1="527.4" y1="127.5" x2="527.4" y2="114.3" stroke="#2FA3CC" stroke-width="0.8" stroke-dasharray="2.5,2.5" opacity="0.85"/><path d="M434.9,127.5 C436.8,127.0 443.1,125.7 446.4,124.5 C449.7,123.3 451.9,121.8 454.6,120.5 C457.4,119.2 460.1,117.8 462.9,117.0 C465.6,116.2 467.1,116.1 471.1,115.8 C475.1,115.5 482.4,115.5 487.0,115.2 C491.6,114.9 494.8,114.2 499.0,113.9 C503.2,113.6 507.7,113.5 512.0,113.5 C516.3,113.5 519.5,113.9 525.0,114.2 C530.5,114.5 538.4,115.0 545.0,115.2 C551.6,115.4 558.6,115.4 564.6,115.5 C570.6,115.6 575.5,115.4 581.0,116.0 C586.5,116.6 592.0,118.1 597.5,119.3 C603.0,120.5 608.4,121.8 613.9,122.9 C619.4,124.1 625.7,125.4 630.4,126.2 C635.1,127.0 640.0,127.3 641.9,127.5" fill="none" stroke="#2FA3CC" stroke-width="1.25"/><path d="M434.9,127.5 C436.8,127.0 443.1,125.7 446.4,124.5 C449.7,123.3 451.9,121.8 454.6,120.5 C457.4,119.2 458.8,117.6 462.9,116.8 C467.0,116.0 473.8,115.6 479.3,115.5 C484.8,115.4 490.8,116.0 495.7,116.3 C500.6,116.6 504.5,117.2 508.9,117.5 C513.3,117.8 517.6,118.1 522.0,118.0 C526.4,117.9 531.2,117.5 535.0,117.1 C538.8,116.7 540.1,115.8 545.0,115.5 C549.9,115.2 557.8,115.4 564.6,115.2 C571.4,115.0 580.5,114.0 586.0,114.2 C591.5,114.4 592.9,115.3 597.5,116.3 C602.1,117.3 608.4,118.9 613.9,120.4 C619.4,121.9 625.7,124.2 630.4,125.4 C635.1,126.6 640.0,127.1 641.9,127.5" fill="none" stroke="#F27F7F" stroke-width="1.25"/><path d="M434.9,127.5 C436.8,127.0 443.1,125.7 446.4,124.5 C449.7,123.3 451.9,121.5 454.6,120.1 C457.4,118.6 460.1,116.9 462.9,115.8 C465.6,114.7 467.8,114.1 471.1,113.5 C474.4,112.9 478.5,112.3 482.6,112.2 C486.7,112.1 491.3,112.6 495.7,113.0 C500.1,113.4 504.5,114.2 508.9,114.7 C513.3,115.2 518.2,115.7 522.0,115.8 C525.8,115.9 528.1,115.5 531.9,115.5 C535.7,115.5 539.5,115.8 545.0,115.8 C550.5,115.8 558.6,115.7 564.6,115.8 C570.6,115.9 575.5,115.7 581.0,116.3 C586.5,116.9 592.0,118.5 597.5,119.6 C603.0,120.7 608.4,121.8 613.9,122.9 C619.4,124.0 625.7,125.4 630.4,126.2 C635.1,127.0 640.0,127.3 641.9,127.5" fill="none" stroke="#222" stroke-width="1.25"/><text x="369.6" y="122.2" font-size="8.6" fill="#222">0.33<tspan font-size="5.4" dy="-2.7">b</tspan></text><text x="400.6" y="117.3" font-size="8.6" fill="#2B9AC4">0.36<tspan font-size="5.4" dy="-2.7">b</tspan></text><text x="400.6" y="127.4" font-size="8.6" fill="#EF8484">0.41<tspan font-size="5.4" dy="-2.7">a</tspan></text><text x="681.3" y="125.0" font-size="11.6" fill="#222">MD</text><path d="M433.3,150.4 C434.9,150.0 440.1,149.3 443.1,147.9 C446.1,146.5 448.9,144.1 451.4,142.2 C453.9,140.3 455.7,137.7 457.9,136.4 C460.1,135.1 462.0,134.5 464.5,134.5 C467.0,134.5 470.2,135.7 472.7,136.4 C475.2,137.1 475.5,138.2 479.3,138.9 C483.1,139.6 490.2,140.5 495.7,140.5 C501.2,140.5 506.6,139.5 512.1,138.9 C517.6,138.3 523.1,137.7 528.6,137.2 C534.1,136.7 539.0,135.9 545.0,136.1 C551.0,136.2 558.6,137.1 564.6,138.1 C570.6,139.1 575.5,141.2 581.0,142.2 C586.5,143.2 592.0,143.8 597.5,144.3 C603.0,144.9 609.0,144.8 613.9,145.5 C618.8,146.2 622.2,147.5 627.1,148.3 C632.0,149.1 640.8,150.1 643.5,150.4 L643.5,150.45 L433.3,150.45 Z" fill="rgba(153,153,153,0.2)" stroke="none"/><path d="M433.3,150.4 C434.9,150.0 440.1,149.2 443.1,148.0 C446.1,146.8 448.9,144.8 451.4,143.5 C453.9,142.2 455.7,140.8 457.9,140.0 C460.1,139.2 462.0,138.5 464.5,138.4 C467.0,138.3 470.2,139.1 472.7,139.4 C475.2,139.8 475.5,140.3 479.3,140.5 C483.1,140.7 490.9,140.9 495.7,140.5 C500.5,140.1 503.9,138.9 508.0,138.1 C512.0,137.3 516.0,136.1 520.0,135.6 C524.0,135.1 527.8,134.9 532.0,134.8 C536.2,134.7 539.6,134.4 545.0,134.8 C550.4,135.2 558.6,136.3 564.6,137.5 C570.6,138.7 575.5,140.7 581.0,141.8 C586.5,142.9 592.0,143.7 597.5,144.3 C603.0,144.9 609.0,144.8 613.9,145.5 C618.8,146.2 622.2,147.5 627.1,148.3 C632.0,149.1 640.8,150.1 643.5,150.4 L643.5,150.45 L433.3,150.45 Z" fill="rgba(88,184,208,0.22)" stroke="none"/><path d="M433.3,150.4 C434.9,150.0 440.1,149.2 443.1,148.0 C446.1,146.8 448.6,145.5 451.4,143.0 C454.1,140.5 456.9,135.4 459.6,133.1 C462.3,130.8 464.5,129.9 467.8,129.0 C471.1,128.1 475.8,127.4 479.3,127.4 C482.9,127.4 485.8,128.1 489.1,129.0 C492.4,129.9 496.0,131.4 499.0,132.8 C502.0,134.2 504.5,136.0 507.2,137.2 C509.9,138.3 511.8,139.1 515.4,139.7 C519.0,140.3 523.7,140.7 528.6,141.0 C533.5,141.3 539.0,141.1 545.0,141.4 C551.0,141.7 557.2,142.2 564.6,142.7 C572.0,143.2 581.1,143.9 589.3,144.6 C597.5,145.2 607.1,145.8 613.9,146.6 C620.7,147.4 625.1,149.0 630.0,149.6 C634.9,150.2 641.2,150.3 643.5,150.4 L643.5,150.45 L433.3,150.45 Z" fill="rgba(250,128,128,0.2)" stroke="none"/><line x1="496.2" y1="150.4" x2="496.2" y2="131.7" stroke="#F27F7F" stroke-width="0.8" stroke-dasharray="2.5,2.5" opacity="0.85"/><line x1="527.4" y1="150.4" x2="527.4" y2="137.3" stroke="#222" stroke-width="0.8" stroke-dasharray="2.5,2.5" opacity="0.85"/><line x1="531.0" y1="150.4" x2="531.0" y2="134.9" stroke="#2FA3CC" stroke-width="0.8" stroke-dasharray="2.5,2.5" opacity="0.85"/><path d="M433.3,150.4 C434.9,150.0 440.1,149.2 443.1,148.0 C446.1,146.8 448.9,144.8 451.4,143.5 C453.9,142.2 455.7,140.8 457.9,140.0 C460.1,139.2 462.0,138.5 464.5,138.4 C467.0,138.3 470.2,139.1 472.7,139.4 C475.2,139.8 475.5,140.3 479.3,140.5 C483.1,140.7 490.9,140.9 495.7,140.5 C500.5,140.1 503.9,138.9 508.0,138.1 C512.0,137.3 516.0,136.1 520.0,135.6 C524.0,135.1 527.8,134.9 532.0,134.8 C536.2,134.7 539.6,134.4 545.0,134.8 C550.4,135.2 558.6,136.3 564.6,137.5 C570.6,138.7 575.5,140.7 581.0,141.8 C586.5,142.9 592.0,143.7 597.5,144.3 C603.0,144.9 609.0,144.8 613.9,145.5 C618.8,146.2 622.2,147.5 627.1,148.3 C632.0,149.1 640.8,150.1 643.5,150.4" fill="none" stroke="#2FA3CC" stroke-width="1.25"/><path d="M433.3,150.4 C434.9,150.0 440.1,149.2 443.1,148.0 C446.1,146.8 448.6,145.5 451.4,143.0 C454.1,140.5 456.9,135.4 459.6,133.1 C462.3,130.8 464.5,129.9 467.8,129.0 C471.1,128.1 475.8,127.4 479.3,127.4 C482.9,127.4 485.8,128.1 489.1,129.0 C492.4,129.9 496.0,131.4 499.0,132.8 C502.0,134.2 504.5,136.0 507.2,137.2 C509.9,138.3 511.8,139.1 515.4,139.7 C519.0,140.3 523.7,140.7 528.6,141.0 C533.5,141.3 539.0,141.1 545.0,141.4 C551.0,141.7 557.2,142.2 564.6,142.7 C572.0,143.2 581.1,143.9 589.3,144.6 C597.5,145.2 607.1,145.8 613.9,146.6 C620.7,147.4 625.1,149.0 630.0,149.6 C634.9,150.2 641.2,150.3 643.5,150.4" fill="none" stroke="#F27F7F" stroke-width="1.25"/><path d="M433.3,150.4 C434.9,150.0 440.1,149.3 443.1,147.9 C446.1,146.5 448.9,144.1 451.4,142.2 C453.9,140.3 455.7,137.7 457.9,136.4 C460.1,135.1 462.0,134.5 464.5,134.5 C467.0,134.5 470.2,135.7 472.7,136.4 C475.2,137.1 475.5,138.2 479.3,138.9 C483.1,139.6 490.2,140.5 495.7,140.5 C501.2,140.5 506.6,139.5 512.1,138.9 C517.6,138.3 523.1,137.7 528.6,137.2 C534.1,136.7 539.0,135.9 545.0,136.1 C551.0,136.2 558.6,137.1 564.6,138.1 C570.6,139.1 575.5,141.2 581.0,142.2 C586.5,143.2 592.0,143.8 597.5,144.3 C603.0,144.9 609.0,144.8 613.9,145.5 C618.8,146.2 622.2,147.5 627.1,148.3 C632.0,149.1 640.8,150.1 643.5,150.4" fill="none" stroke="#222" stroke-width="1.25"/><text x="369.6" y="144.9" font-size="8.6" fill="#222">0.36<tspan font-size="5.4" dy="-2.7">a</tspan></text><text x="400.6" y="140.0" font-size="8.6" fill="#2B9AC4">0.38<tspan font-size="5.4" dy="-2.7">a</tspan></text><text x="400.6" y="150.1" font-size="8.6" fill="#EF8484">0.19<tspan font-size="5.4" dy="-2.7">b</tspan></text><text x="681.3" y="147.9" font-size="11.6" fill="#222">NQ</text><path d="M432.5,173.4 C434.3,173.0 439.7,172.3 443.1,170.9 C446.5,169.5 449.7,166.8 453.0,165.2 C456.3,163.6 459.9,161.9 462.9,161.4 C465.9,160.9 468.4,161.9 471.1,162.4 C473.8,162.9 475.2,164.1 479.3,164.4 C483.4,164.7 490.2,164.2 495.7,164.0 C501.2,163.8 506.6,163.9 512.1,163.5 C517.6,163.1 523.1,162.1 528.6,161.4 C534.1,160.7 539.8,159.6 545.0,159.1 C550.2,158.6 555.1,158.4 559.7,158.6 C564.4,158.8 568.0,159.5 572.9,160.2 C577.8,160.9 583.8,161.7 589.3,162.7 C594.8,163.7 600.2,164.8 605.7,166.0 C611.2,167.2 616.4,168.9 622.1,170.1 C627.9,171.3 637.2,172.9 640.2,173.4 L640.2,173.42 L432.5,173.42 Z" fill="rgba(153,153,153,0.2)" stroke="none"/><path d="M432.5,173.4 C434.3,173.3 438.0,173.6 443.1,172.6 C448.2,171.6 456.9,168.8 462.9,167.6 C468.9,166.4 473.8,166.1 479.3,165.2 C484.8,164.2 490.2,162.7 495.7,161.9 C501.2,161.2 506.6,161.2 512.1,160.7 C517.6,160.1 523.1,159.1 528.6,158.6 C534.1,158.1 539.8,157.9 545.0,157.8 C550.2,157.7 555.1,157.8 559.7,158.1 C564.4,158.4 568.0,158.6 572.9,159.4 C577.8,160.2 583.8,161.6 589.3,162.7 C594.8,163.8 600.2,164.5 605.7,165.7 C611.2,166.9 616.4,168.8 622.1,170.1 C627.9,171.4 637.2,172.9 640.2,173.4 L640.2,173.42 L432.5,173.42 Z" fill="rgba(88,184,208,0.22)" stroke="none"/><path d="M432.5,173.4 C433.7,173.0 437.6,172.4 439.9,170.9 C442.2,169.4 444.2,166.9 446.4,164.4 C448.6,161.9 450.8,158.2 453.0,156.1 C455.2,154.0 457.4,152.8 459.6,152.0 C461.8,151.2 463.9,150.9 466.1,151.2 C468.3,151.5 470.5,152.6 472.7,153.7 C474.9,154.8 476.8,156.6 479.3,157.8 C481.8,159.0 484.8,160.0 487.5,160.7 C490.2,161.4 491.6,161.6 495.7,161.9 C499.8,162.2 506.6,162.2 512.1,162.7 C517.6,163.2 524.5,164.3 528.6,164.7 C532.7,165.1 534.1,165.3 536.8,165.2 C539.5,165.1 541.7,164.4 545.0,164.0 C548.3,163.6 550.4,163.0 556.4,162.7 C562.4,162.4 574.1,162.0 581.0,162.4 C587.9,162.8 592.0,164.2 597.5,165.2 C603.0,166.2 607.0,167.1 613.9,168.5 C620.8,169.9 634.5,172.6 638.6,173.4 L638.6,173.42 L432.5,173.42 Z" fill="rgba(250,128,128,0.2)" stroke="none"/><line x1="507.2" y1="173.4" x2="507.2" y2="162.5" stroke="#F27F7F" stroke-width="0.8" stroke-dasharray="2.5,2.5" opacity="0.85"/><line x1="540.2" y1="173.4" x2="540.2" y2="159.8" stroke="#222" stroke-width="0.8" stroke-dasharray="2.5,2.5" opacity="0.85"/><line x1="538.4" y1="173.4" x2="538.4" y2="158.1" stroke="#2FA3CC" stroke-width="0.8" stroke-dasharray="2.5,2.5" opacity="0.85"/><path d="M432.5,173.4 C434.3,173.3 438.0,173.6 443.1,172.6 C448.2,171.6 456.9,168.8 462.9,167.6 C468.9,166.4 473.8,166.1 479.3,165.2 C484.8,164.2 490.2,162.7 495.7,161.9 C501.2,161.2 506.6,161.2 512.1,160.7 C517.6,160.1 523.1,159.1 528.6,158.6 C534.1,158.1 539.8,157.9 545.0,157.8 C550.2,157.7 555.1,157.8 559.7,158.1 C564.4,158.4 568.0,158.6 572.9,159.4 C577.8,160.2 583.8,161.6 589.3,162.7 C594.8,163.8 600.2,164.5 605.7,165.7 C611.2,166.9 616.4,168.8 622.1,170.1 C627.9,171.4 637.2,172.9 640.2,173.4" fill="none" stroke="#2FA3CC" stroke-width="1.25"/><path d="M432.5,173.4 C433.7,173.0 437.6,172.4 439.9,170.9 C442.2,169.4 444.2,166.9 446.4,164.4 C448.6,161.9 450.8,158.2 453.0,156.1 C455.2,154.0 457.4,152.8 459.6,152.0 C461.8,151.2 463.9,150.9 466.1,151.2 C468.3,151.5 470.5,152.6 472.7,153.7 C474.9,154.8 476.8,156.6 479.3,157.8 C481.8,159.0 484.8,160.0 487.5,160.7 C490.2,161.4 491.6,161.6 495.7,161.9 C499.8,162.2 506.6,162.2 512.1,162.7 C517.6,163.2 524.5,164.3 528.6,164.7 C532.7,165.1 534.1,165.3 536.8,165.2 C539.5,165.1 541.7,164.4 545.0,164.0 C548.3,163.6 550.4,163.0 556.4,162.7 C562.4,162.4 574.1,162.0 581.0,162.4 C587.9,162.8 592.0,164.2 597.5,165.2 C603.0,166.2 607.0,167.1 613.9,168.5 C620.8,169.9 634.5,172.6 638.6,173.4" fill="none" stroke="#F27F7F" stroke-width="1.25"/><path d="M432.5,173.4 C434.3,173.0 439.7,172.3 443.1,170.9 C446.5,169.5 449.7,166.8 453.0,165.2 C456.3,163.6 459.9,161.9 462.9,161.4 C465.9,160.9 468.4,161.9 471.1,162.4 C473.8,162.9 475.2,164.1 479.3,164.4 C483.4,164.7 490.2,164.2 495.7,164.0 C501.2,163.8 506.6,163.9 512.1,163.5 C517.6,163.1 523.1,162.1 528.6,161.4 C534.1,160.7 539.8,159.6 545.0,159.1 C550.2,158.6 555.1,158.4 559.7,158.6 C564.4,158.8 568.0,159.5 572.9,160.2 C577.8,160.9 583.8,161.7 589.3,162.7 C594.8,163.7 600.2,164.8 605.7,166.0 C611.2,167.2 616.4,168.9 622.1,170.1 C627.9,171.3 637.2,172.9 640.2,173.4" fill="none" stroke="#222" stroke-width="1.25"/><text x="369.6" y="167.6" font-size="8.6" fill="#222">0.43<tspan font-size="5.4" dy="-2.7">a</tspan></text><text x="400.6" y="162.7" font-size="8.6" fill="#2B9AC4">0.42<tspan font-size="5.4" dy="-2.7">a</tspan></text><text x="400.6" y="172.8" font-size="8.6" fill="#EF8484">0.25<tspan font-size="5.4" dy="-2.7">b</tspan></text><text x="681.3" y="170.9" font-size="11.6" fill="#222">GM</text><path d="M434.1,196.4 C436.2,196.2 441.6,196.2 446.4,195.2 C451.2,194.2 457.4,192.0 462.9,190.6 C468.4,189.2 474.9,187.9 479.3,187.0 C483.7,186.1 486.4,185.5 489.1,184.9 C491.8,184.3 493.2,183.8 495.7,183.2 C498.2,182.6 499.8,181.9 503.9,181.6 C508.0,181.2 514.9,181.1 520.4,181.1 C525.9,181.1 532.7,181.4 536.8,181.6 C540.9,181.8 541.7,182.1 545.0,182.1 C548.3,182.1 551.8,181.5 556.4,181.6 C561.0,181.7 567.4,181.7 572.9,182.4 C578.4,183.1 583.8,184.9 589.3,186.0 C594.8,187.1 600.2,187.9 605.7,189.0 C611.2,190.1 616.1,191.1 622.1,192.3 C628.1,193.5 638.6,195.7 641.9,196.4 L641.9,196.39 L434.1,196.39 Z" fill="rgba(153,153,153,0.2)" stroke="none"/><path d="M434.1,196.4 C436.2,196.2 441.6,196.3 446.4,195.4 C451.2,194.5 457.4,192.3 462.9,191.0 C468.4,189.7 474.4,188.3 479.3,187.4 C484.2,186.5 488.3,186.0 492.4,185.4 C496.5,184.8 499.2,184.5 503.9,184.1 C508.6,183.7 514.9,183.4 520.4,183.2 C525.9,183.0 532.7,183.0 536.8,182.8 C540.9,182.6 541.7,182.4 545.0,182.1 C548.3,181.8 551.8,181.2 556.4,181.1 C561.0,181.0 567.4,180.9 572.9,181.6 C578.4,182.3 583.8,184.2 589.3,185.4 C594.8,186.6 600.2,187.6 605.7,188.7 C611.2,189.8 615.8,190.7 622.1,192.0 C628.4,193.3 639.9,195.7 643.5,196.4 L643.5,196.39 L434.1,196.39 Z" fill="rgba(88,184,208,0.22)" stroke="none"/><path d="M434.1,196.4 C435.6,196.0 440.0,195.4 443.1,193.9 C446.2,192.4 449.7,189.3 453.0,187.4 C456.3,185.5 459.9,183.6 462.9,182.4 C465.9,181.2 468.4,180.7 471.1,180.5 C473.8,180.3 476.6,180.7 479.3,181.1 C482.0,181.5 484.8,182.4 487.5,183.2 C490.2,184.0 493.0,185.1 495.7,185.7 C498.4,186.3 499.8,186.8 503.9,187.0 C508.0,187.2 513.5,187.1 520.4,187.0 C527.2,186.9 539.0,186.8 545.0,186.5 C551.0,186.2 551.8,185.8 556.4,185.4 C561.0,185.1 567.4,184.2 572.9,184.4 C578.4,184.6 583.8,185.7 589.3,186.5 C594.8,187.3 600.2,188.0 605.7,189.0 C611.2,190.0 616.1,191.4 622.1,192.6 C628.1,193.8 638.6,195.8 641.9,196.4 L641.9,196.39 L434.1,196.39 Z" fill="rgba(250,128,128,0.2)" stroke="none"/><line x1="527.4" y1="196.4" x2="527.4" y2="186.9" stroke="#F27F7F" stroke-width="0.8" stroke-dasharray="2.5,2.5" opacity="0.85"/><line x1="534.7" y1="196.4" x2="534.7" y2="181.5" stroke="#222" stroke-width="0.8" stroke-dasharray="2.5,2.5" opacity="0.85"/><line x1="543.9" y1="196.4" x2="543.9" y2="182.2" stroke="#2FA3CC" stroke-width="0.8" stroke-dasharray="2.5,2.5" opacity="0.85"/><path d="M434.1,196.4 C436.2,196.2 441.6,196.3 446.4,195.4 C451.2,194.5 457.4,192.3 462.9,191.0 C468.4,189.7 474.4,188.3 479.3,187.4 C484.2,186.5 488.3,186.0 492.4,185.4 C496.5,184.8 499.2,184.5 503.9,184.1 C508.6,183.7 514.9,183.4 520.4,183.2 C525.9,183.0 532.7,183.0 536.8,182.8 C540.9,182.6 541.7,182.4 545.0,182.1 C548.3,181.8 551.8,181.2 556.4,181.1 C561.0,181.0 567.4,180.9 572.9,181.6 C578.4,182.3 583.8,184.2 589.3,185.4 C594.8,186.6 600.2,187.6 605.7,188.7 C611.2,189.8 615.8,190.7 622.1,192.0 C628.4,193.3 639.9,195.7 643.5,196.4" fill="none" stroke="#2FA3CC" stroke-width="1.25"/><path d="M434.1,196.4 C435.6,196.0 440.0,195.4 443.1,193.9 C446.2,192.4 449.7,189.3 453.0,187.4 C456.3,185.5 459.9,183.6 462.9,182.4 C465.9,181.2 468.4,180.7 471.1,180.5 C473.8,180.3 476.6,180.7 479.3,181.1 C482.0,181.5 484.8,182.4 487.5,183.2 C490.2,184.0 493.0,185.1 495.7,185.7 C498.4,186.3 499.8,186.8 503.9,187.0 C508.0,187.2 513.5,187.1 520.4,187.0 C527.2,186.9 539.0,186.8 545.0,186.5 C551.0,186.2 551.8,185.8 556.4,185.4 C561.0,185.1 567.4,184.2 572.9,184.4 C578.4,184.6 583.8,185.7 589.3,186.5 C594.8,187.3 600.2,188.0 605.7,189.0 C611.2,190.0 616.1,191.4 622.1,192.6 C628.1,193.8 638.6,195.8 641.9,196.4" fill="none" stroke="#F27F7F" stroke-width="1.25"/><path d="M434.1,196.4 C436.2,196.2 441.6,196.2 446.4,195.2 C451.2,194.2 457.4,192.0 462.9,190.6 C468.4,189.2 474.9,187.9 479.3,187.0 C483.7,186.1 486.4,185.5 489.1,184.9 C491.8,184.3 493.2,183.8 495.7,183.2 C498.2,182.6 499.8,181.9 503.9,181.6 C508.0,181.2 514.9,181.1 520.4,181.1 C525.9,181.1 532.7,181.4 536.8,181.6 C540.9,181.8 541.7,182.1 545.0,182.1 C548.3,182.1 551.8,181.5 556.4,181.6 C561.0,181.7 567.4,181.7 572.9,182.4 C578.4,183.1 583.8,184.9 589.3,186.0 C594.8,187.1 600.2,187.9 605.7,189.0 C611.2,190.1 616.1,191.1 622.1,192.3 C628.1,193.5 638.6,195.7 641.9,196.4" fill="none" stroke="#222" stroke-width="1.25"/><text x="369.6" y="190.2" font-size="8.6" fill="#222">0.40<tspan font-size="5.4" dy="-2.7">b</tspan></text><text x="400.6" y="185.3" font-size="8.6" fill="#2B9AC4">0.45<tspan font-size="5.4" dy="-2.7">a</tspan></text><text x="400.6" y="195.4" font-size="8.6" fill="#EF8484">0.36<tspan font-size="5.4" dy="-2.7">c</tspan></text><text x="681.3" y="193.9" font-size="11.6" fill="#222">AD</text><path d="M433.3,219.4 C434.9,218.9 440.1,218.3 443.1,216.9 C446.1,215.5 448.9,213.0 451.4,211.2 C453.9,209.4 456.0,207.3 457.9,206.2 C459.8,205.1 461.2,204.7 462.9,204.6 C464.5,204.5 465.6,204.8 467.8,205.4 C470.0,206.0 472.7,207.2 476.0,207.9 C479.3,208.6 482.9,209.1 487.5,209.5 C492.1,209.9 498.4,210.1 503.9,210.4 C509.4,210.7 514.9,211.2 520.4,211.2 C525.9,211.2 532.7,210.7 536.8,210.4 C540.9,210.1 541.4,209.8 545.0,209.5 C548.6,209.2 554.8,209.0 558.6,208.5 C562.4,208.0 564.2,207.2 567.9,206.6 C571.6,206.0 576.3,204.6 580.9,204.8 C585.5,205.0 590.1,206.4 595.7,207.6 C601.3,208.8 608.7,210.6 614.3,212.2 C619.9,213.8 625.4,215.8 629.1,216.9 C632.8,218.0 632.9,218.3 636.6,218.7 C640.3,219.1 648.9,219.2 651.4,219.4 L651.4,219.36 L433.3,219.36 Z" fill="rgba(153,153,153,0.2)" stroke="none"/><path d="M433.3,219.4 C434.9,219.0 439.6,218.5 443.1,217.0 C446.7,215.5 451.3,212.5 454.6,210.4 C457.9,208.3 460.1,205.4 462.9,204.6 C465.6,203.8 467.0,205.1 471.1,205.4 C475.2,205.7 482.0,206.0 487.5,206.2 C493.0,206.4 498.4,206.5 503.9,206.7 C509.4,206.9 514.9,207.1 520.4,207.4 C525.9,207.7 532.7,208.2 536.8,208.4 C540.9,208.6 541.4,208.5 545.0,208.7 C548.6,208.9 553.3,209.4 558.6,209.8 C563.9,210.2 570.8,210.6 577.0,210.9 C583.2,211.2 589.5,211.2 595.7,211.7 C601.9,212.2 608.7,213.1 614.3,214.1 C619.9,215.1 625.4,216.9 629.1,217.8 C632.8,218.7 635.4,219.1 636.6,219.4 L636.6,219.36 L433.3,219.36 Z" fill="rgba(88,184,208,0.22)" stroke="none"/><path d="M433.3,219.4 C434.9,218.9 440.1,218.4 443.1,216.9 C446.1,215.4 448.9,212.5 451.4,210.4 C453.9,208.3 456.0,205.9 457.9,204.6 C459.8,203.3 460.7,202.8 462.9,202.5 C465.1,202.2 467.0,202.8 471.1,203.0 C475.2,203.2 482.0,203.4 487.5,203.8 C493.0,204.2 498.4,204.9 503.9,205.4 C509.4,205.9 514.9,206.3 520.4,206.7 C525.9,207.1 532.7,207.6 536.8,207.9 C540.9,208.2 541.4,208.4 545.0,208.7 C548.6,208.9 553.3,208.9 558.6,209.4 C563.9,209.9 570.8,210.9 577.0,211.7 C583.2,212.5 589.5,213.3 595.7,214.1 C601.9,214.9 608.1,215.7 614.3,216.5 C620.5,217.3 628.6,218.4 632.9,218.9 C637.2,219.4 638.8,219.3 640.0,219.4 L640.0,219.36 L433.3,219.36 Z" fill="rgba(250,128,128,0.2)" stroke="none"/><line x1="509.0" y1="219.4" x2="509.0" y2="205.8" stroke="#F27F7F" stroke-width="0.8" stroke-dasharray="2.5,2.5" opacity="0.85"/><line x1="542.0" y1="219.4" x2="542.0" y2="209.8" stroke="#222" stroke-width="0.8" stroke-dasharray="2.5,2.5" opacity="0.85"/><line x1="520.0" y1="219.4" x2="520.0" y2="207.4" stroke="#2FA3CC" stroke-width="0.8" stroke-dasharray="2.5,2.5" opacity="0.85"/><path d="M433.3,219.4 C434.9,219.0 439.6,218.5 443.1,217.0 C446.7,215.5 451.3,212.5 454.6,210.4 C457.9,208.3 460.1,205.4 462.9,204.6 C465.6,203.8 467.0,205.1 471.1,205.4 C475.2,205.7 482.0,206.0 487.5,206.2 C493.0,206.4 498.4,206.5 503.9,206.7 C509.4,206.9 514.9,207.1 520.4,207.4 C525.9,207.7 532.7,208.2 536.8,208.4 C540.9,208.6 541.4,208.5 545.0,208.7 C548.6,208.9 553.3,209.4 558.6,209.8 C563.9,210.2 570.8,210.6 577.0,210.9 C583.2,211.2 589.5,211.2 595.7,211.7 C601.9,212.2 608.7,213.1 614.3,214.1 C619.9,215.1 625.4,216.9 629.1,217.8 C632.8,218.7 635.4,219.1 636.6,219.4" fill="none" stroke="#2FA3CC" stroke-width="1.25"/><path d="M433.3,219.4 C434.9,218.9 440.1,218.4 443.1,216.9 C446.1,215.4 448.9,212.5 451.4,210.4 C453.9,208.3 456.0,205.9 457.9,204.6 C459.8,203.3 460.7,202.8 462.9,202.5 C465.1,202.2 467.0,202.8 471.1,203.0 C475.2,203.2 482.0,203.4 487.5,203.8 C493.0,204.2 498.4,204.9 503.9,205.4 C509.4,205.9 514.9,206.3 520.4,206.7 C525.9,207.1 532.7,207.6 536.8,207.9 C540.9,208.2 541.4,208.4 545.0,208.7 C548.6,208.9 553.3,208.9 558.6,209.4 C563.9,209.9 570.8,210.9 577.0,211.7 C583.2,212.5 589.5,213.3 595.7,214.1 C601.9,214.9 608.1,215.7 614.3,216.5 C620.5,217.3 628.6,218.4 632.9,218.9 C637.2,219.4 638.8,219.3 640.0,219.4" fill="none" stroke="#F27F7F" stroke-width="1.25"/><path d="M433.3,219.4 C434.9,218.9 440.1,218.3 443.1,216.9 C446.1,215.5 448.9,213.0 451.4,211.2 C453.9,209.4 456.0,207.3 457.9,206.2 C459.8,205.1 461.2,204.7 462.9,204.6 C464.5,204.5 465.6,204.8 467.8,205.4 C470.0,206.0 472.7,207.2 476.0,207.9 C479.3,208.6 482.9,209.1 487.5,209.5 C492.1,209.9 498.4,210.1 503.9,210.4 C509.4,210.7 514.9,211.2 520.4,211.2 C525.9,211.2 532.7,210.7 536.8,210.4 C540.9,210.1 541.4,209.8 545.0,209.5 C548.6,209.2 554.8,209.0 558.6,208.5 C562.4,208.0 564.2,207.2 567.9,206.6 C571.6,206.0 576.3,204.6 580.9,204.8 C585.5,205.0 590.1,206.4 595.7,207.6 C601.3,208.8 608.7,210.6 614.3,212.2 C619.9,213.8 625.4,215.8 629.1,216.9 C632.8,218.0 632.9,218.3 636.6,218.7 C640.3,219.1 648.9,219.2 651.4,219.4" fill="none" stroke="#222" stroke-width="1.25"/><text x="369.6" y="212.9" font-size="8.6" fill="#222">0.44<tspan font-size="5.4" dy="-2.7">a</tspan></text><text x="400.6" y="208.0" font-size="8.6" fill="#2B9AC4">0.32<tspan font-size="5.4" dy="-2.7">b</tspan></text><text x="400.6" y="218.1" font-size="8.6" fill="#EF8484">0.26<tspan font-size="5.4" dy="-2.7">c</tspan></text><text x="681.3" y="216.9" font-size="11.6" fill="#222">YS</text><path d="M433.3,242.3 C435.5,241.9 442.8,241.3 446.4,239.9 C449.9,238.5 451.9,235.8 454.6,234.2 C457.4,232.6 460.1,231.2 462.9,230.4 C465.6,229.7 467.0,229.8 471.1,229.7 C475.2,229.6 482.0,229.8 487.5,229.7 C493.0,229.6 498.4,229.3 503.9,229.2 C509.4,229.0 514.9,228.7 520.4,228.8 C525.9,228.9 532.7,229.5 536.8,229.7 C540.9,229.9 541.7,229.9 545.0,230.1 C548.3,230.3 551.8,230.6 556.4,230.9 C561.0,231.2 567.4,231.4 572.9,232.0 C578.4,232.6 583.8,233.4 589.3,234.2 C594.8,235.0 600.2,235.6 605.7,236.6 C611.2,237.6 616.5,238.9 622.1,239.9 C627.7,240.9 636.5,241.9 639.4,242.3 L639.4,242.33 L433.3,242.33 Z" fill="rgba(153,153,153,0.2)" stroke="none"/><path d="M433.3,242.3 C434.9,242.2 439.6,242.6 443.1,241.6 C446.7,240.6 450.8,237.8 454.6,236.6 C458.4,235.4 461.9,235.2 466.0,234.7 C470.1,234.2 474.4,234.2 479.3,233.4 C484.2,232.6 490.8,231.3 495.7,230.1 C500.6,228.9 504.5,227.1 508.9,226.0 C513.3,224.9 517.4,224.1 522.0,223.8 C526.6,223.5 533.0,224.1 536.8,224.3 C540.6,224.5 541.7,224.7 545.0,225.1 C548.3,225.5 551.8,225.4 556.4,226.5 C561.0,227.6 567.4,230.3 572.9,231.7 C578.4,233.1 583.8,234.0 589.3,235.0 C594.8,236.0 600.2,236.6 605.7,237.5 C611.2,238.4 616.6,239.9 622.1,240.7 C627.6,241.5 635.9,242.1 638.6,242.3 L638.6,242.33 L433.3,242.33 Z" fill="rgba(88,184,208,0.22)" stroke="none"/><path d="M433.3,242.3 C434.9,241.8 440.1,241.1 443.1,239.1 C446.1,237.1 448.9,232.4 451.4,230.1 C453.9,227.8 455.7,226.1 457.9,225.1 C460.1,224.1 462.3,223.9 464.5,223.8 C466.7,223.8 468.6,224.2 471.1,224.8 C473.6,225.4 476.6,226.9 479.3,227.6 C482.0,228.3 484.8,228.5 487.5,228.8 C490.2,229.1 493.0,228.8 495.7,229.2 C498.4,229.6 499.8,230.8 503.9,231.4 C508.0,232.0 513.5,232.2 520.4,232.5 C527.2,232.8 537.6,232.9 545.0,233.0 C552.4,233.1 558.6,233.1 564.6,233.0 C570.6,232.9 575.5,232.3 581.0,232.5 C586.5,232.7 592.0,233.5 597.5,234.2 C603.0,234.9 608.4,235.5 613.9,236.6 C619.4,237.7 626.3,239.7 630.4,240.7 C634.5,241.7 637.2,242.1 638.6,242.3 L638.6,242.33 L433.3,242.33 Z" fill="rgba(250,128,128,0.2)" stroke="none"/><line x1="516.4" y1="242.3" x2="516.4" y2="232.2" stroke="#F27F7F" stroke-width="0.8" stroke-dasharray="2.5,2.5" opacity="0.85"/><line x1="525.5" y1="242.3" x2="525.5" y2="229.1" stroke="#222" stroke-width="0.8" stroke-dasharray="2.5,2.5" opacity="0.85"/><line x1="531.0" y1="242.3" x2="531.0" y2="224.1" stroke="#2FA3CC" stroke-width="0.8" stroke-dasharray="2.5,2.5" opacity="0.85"/><path d="M433.3,242.3 C434.9,242.2 439.6,242.6 443.1,241.6 C446.7,240.6 450.8,237.8 454.6,236.6 C458.4,235.4 461.9,235.2 466.0,234.7 C470.1,234.2 474.4,234.2 479.3,233.4 C484.2,232.6 490.8,231.3 495.7,230.1 C500.6,228.9 504.5,227.1 508.9,226.0 C513.3,224.9 517.4,224.1 522.0,223.8 C526.6,223.5 533.0,224.1 536.8,224.3 C540.6,224.5 541.7,224.7 545.0,225.1 C548.3,225.5 551.8,225.4 556.4,226.5 C561.0,227.6 567.4,230.3 572.9,231.7 C578.4,233.1 583.8,234.0 589.3,235.0 C594.8,236.0 600.2,236.6 605.7,237.5 C611.2,238.4 616.6,239.9 622.1,240.7 C627.6,241.5 635.9,242.1 638.6,242.3" fill="none" stroke="#2FA3CC" stroke-width="1.25"/><path d="M433.3,242.3 C434.9,241.8 440.1,241.1 443.1,239.1 C446.1,237.1 448.9,232.4 451.4,230.1 C453.9,227.8 455.7,226.1 457.9,225.1 C460.1,224.1 462.3,223.9 464.5,223.8 C466.7,223.8 468.6,224.2 471.1,224.8 C473.6,225.4 476.6,226.9 479.3,227.6 C482.0,228.3 484.8,228.5 487.5,228.8 C490.2,229.1 493.0,228.8 495.7,229.2 C498.4,229.6 499.8,230.8 503.9,231.4 C508.0,232.0 513.5,232.2 520.4,232.5 C527.2,232.8 537.6,232.9 545.0,233.0 C552.4,233.1 558.6,233.1 564.6,233.0 C570.6,232.9 575.5,232.3 581.0,232.5 C586.5,232.7 592.0,233.5 597.5,234.2 C603.0,234.9 608.4,235.5 613.9,236.6 C619.4,237.7 626.3,239.7 630.4,240.7 C634.5,241.7 637.2,242.1 638.6,242.3" fill="none" stroke="#F27F7F" stroke-width="1.25"/><path d="M433.3,242.3 C435.5,241.9 442.8,241.3 446.4,239.9 C449.9,238.5 451.9,235.8 454.6,234.2 C457.4,232.6 460.1,231.2 462.9,230.4 C465.6,229.7 467.0,229.8 471.1,229.7 C475.2,229.6 482.0,229.8 487.5,229.7 C493.0,229.6 498.4,229.3 503.9,229.2 C509.4,229.0 514.9,228.7 520.4,228.8 C525.9,228.9 532.7,229.5 536.8,229.7 C540.9,229.9 541.7,229.9 545.0,230.1 C548.3,230.3 551.8,230.6 556.4,230.9 C561.0,231.2 567.4,231.4 572.9,232.0 C578.4,232.6 583.8,233.4 589.3,234.2 C594.8,235.0 600.2,235.6 605.7,236.6 C611.2,237.6 616.5,238.9 622.1,239.9 C627.7,240.9 636.5,241.9 639.4,242.3" fill="none" stroke="#222" stroke-width="1.25"/><text x="369.6" y="235.5" font-size="8.6" fill="#222">0.35<tspan font-size="5.4" dy="-2.7">b</tspan></text><text x="400.6" y="230.6" font-size="8.6" fill="#2B9AC4">0.38<tspan font-size="5.4" dy="-2.7">a</tspan></text><text x="400.6" y="240.7" font-size="8.6" fill="#EF8484">0.30<tspan font-size="5.4" dy="-2.7">c</tspan></text><text x="681.3" y="239.8" font-size="11.6" fill="#222">HH</text>
<line x1="355" y1="255.5" x2="678" y2="255.5" stroke="#333" stroke-width="1"/>
<g stroke="#333" stroke-width="1"><line x1="461.3" y1="256" x2="461.3" y2="258.5"/><line x1="552.8" y1="256" x2="552.8" y2="258.5"/><line x1="644.8" y1="256" x2="644.8" y2="258.5"/></g>
<g font-size="11.6" fill="#222" text-anchor="middle"><text x="461.1" y="268">0.0</text><text x="552.8" y="268">0.5</text><text x="644.8" y="268">1.0</text></g>
<text x="487.8" y="282" font-size="11" letter-spacing="0.2" fill="#222">Aromaticity index (AI<tspan font-size="7.5" dy="3">mod</tspan><tspan dy="-3">)</tspan></text>
</svg>
</body></html>
